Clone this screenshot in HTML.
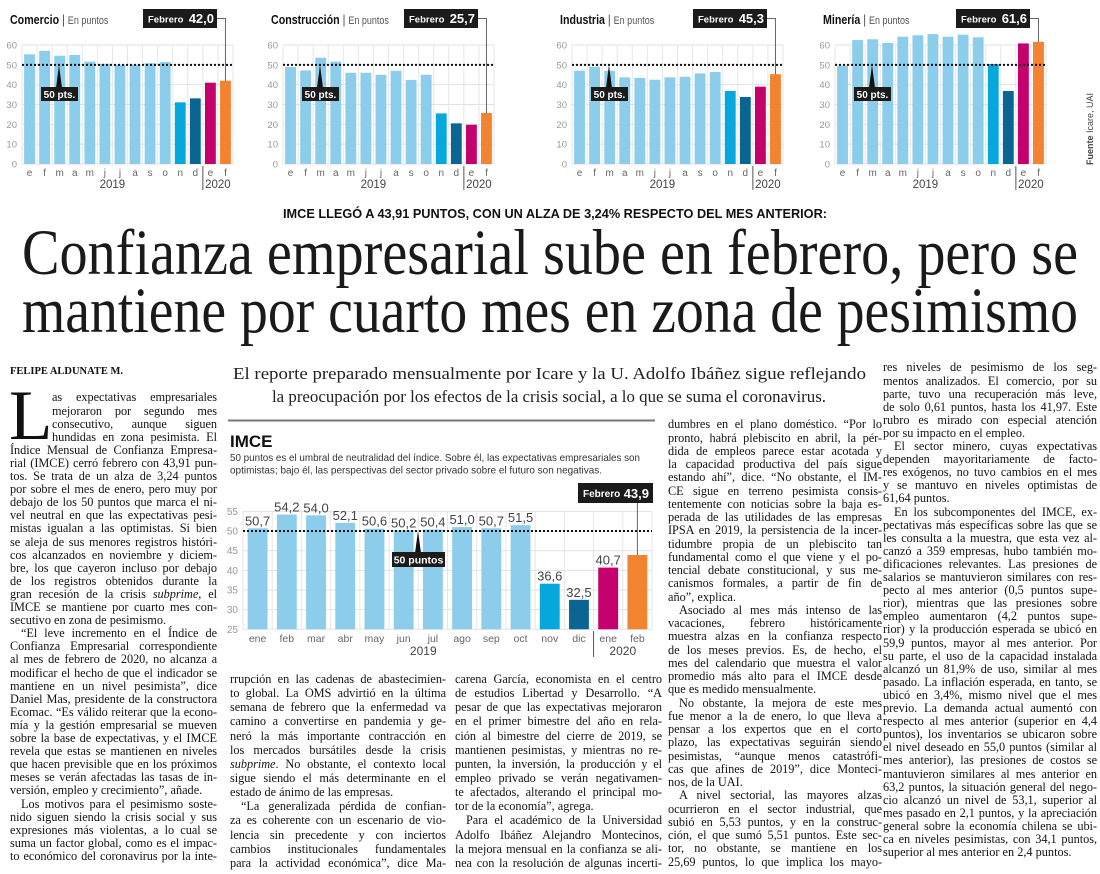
<!DOCTYPE html>
<html lang="es">
<head>
<meta charset="utf-8">
<style>
html,body{margin:0;padding:0;background:#fff;}
body{width:1100px;height:874px;position:relative;overflow:hidden;font-family:"Liberation Serif",serif;color:#222;}
.abs{position:absolute;white-space:nowrap;}
.fit{display:inline-block;transform-origin:0 0;}
.ln{position:absolute;font-size:12.3px;text-align:justify;text-align-last:justify;overflow:visible;color:#141414;}
svg{position:absolute;left:0;top:0;}
svg text{font-family:"Liberation Sans",sans-serif;}
</style>
</head>
<body>

<svg id="top-charts" width="1100" height="200"></svg>

<div class="abs" style="left:283px;top:205px;font-family:'Liberation Sans',sans-serif;font-weight:bold;font-size:13px;line-height:18px;color:#111;"><span class="fit" data-w="544">IMCE LLEGÓ A 43,91 PUNTOS, CON UN ALZA DE 3,24% RESPECTO DEL MES ANTERIOR:</span></div>

<div class="abs" style="left:22px;top:221px;font-size:65px;line-height:65px;color:#1a1a1a;"><span class="fit" data-w="1056">Confianza empresarial sube en febrero, pero se</span></div>
<div class="abs" style="left:22px;top:279px;font-size:65px;line-height:65px;color:#1a1a1a;"><span class="fit" data-w="1056">mantiene por cuarto mes en zona de pesimismo</span></div>

<div class="abs" style="left:10px;top:365px;font-size:10.5px;font-weight:bold;line-height:14px;color:#111;"><span class="fit" data-w="113">FELIPE ALDUNATE M.</span></div>

<div class="abs" style="left:233px;top:363px;font-size:17px;line-height:22px;color:#222;"><span class="fit" data-w="633">El reporte preparado mensualmente por Icare y la U. Adolfo Ibáñez sigue reflejando</span></div>
<div class="abs" style="left:272px;top:386px;font-size:17px;line-height:22px;color:#222;"><span class="fit" data-w="554">la preocupación por los efectos de la crisis social, a lo que se suma el coronavirus.</span></div>

<div class="abs" style="left:9px;top:381px;font-size:71px;line-height:71px;color:#111;">L</div>

<div id="cols"></div>

<svg id="main-chart" width="1100" height="874" style="pointer-events:none"></svg>

<script>
// ---------- data ----------
const smallMonths = ['e','f','m','a','m','j','j','a','s','o','n','d','e','f'];
const smallTicks = [0,10,20,30,40,50,60];
const comercioValues = [55.3,57.1,54.6,55.0,51.6,50.5,50.0,50.0,50.8,51.4,31.1,33.1,41.0,42.0];
const construccionValues = [48.9,47.2,53.6,51.6,46.0,46.0,45.0,47.0,42.4,45.0,25.5,20.5,19.8,25.7];
const industriaValues = [47.0,49.0,47.0,43.7,43.4,42.5,43.7,44.0,45.7,46.4,36.8,33.8,39.0,45.3];
const mineriaValues = [49.5,62.5,62.9,61.0,64.2,64.9,65.5,64.2,65.2,63.9,50.4,36.8,60.8,61.6];
const sectorNames = ['Comercio','Construcción','Industria','Minería'];
const imceMonths = ['ene','feb','mar','abr','may','jun','jul','ago','sep','oct','nov','dic','ene','feb'];
const imceValues = [50.7,54.2,54.0,52.1,50.6,50.2,50.4,51.0,50.7,51.5,36.6,32.5,40.7,43.9];
const imceTicks = [25,30,35,40,45,50,55];
const yearLabels = ['2019','2020'];

const NS = 'http://www.w3.org/2000/svg';
function el(parent, tag, attrs, txt){
  const e = document.createElementNS(NS, tag);
  for (const k in attrs) e.setAttribute(k, attrs[k]);
  if (txt !== undefined) e.textContent = txt;
  parent.appendChild(e);
  return e;
}
function fmt(v){ return v.toFixed(1).replace('.', ','); }
function barColor(i){
  if (i < 10) return '#8ccdeb';
  if (i === 10) return '#05a7dd';
  if (i === 11) return '#0b6593';
  if (i === 12) return '#c4006d';
  return '#f18331';
}

// ---------- small charts ----------
const topSvg = document.getElementById('top-charts');
function smallChart(L, vals, name){
  const W = 211, colW = W/14, top = 45, base = 164;
  const y = v => base - v*(base-top)/60;
  const x = i => L + i*colW;
  const g = el(topSvg, 'g', {});
  
  
  smallTicks.forEach(t => {
    const gl = el(g, 'line', {x1:L, x2:L+W, y1:y(t), y2:y(t), stroke:'#e2e2e2', 'stroke-width':1});
    
    
    const tl = el(g, 'text', {x:L-5, y:y(t)+3.5, 'text-anchor':'end', 'font-size':9.5, fill:'#999'}, t);
    
    
  });
  for (let i=0;i<=14;i++){
    const vl = el(g, 'line', {x1:x(i), x2:x(i), y1:top, y2:base, stroke:'#e6e6e6', 'stroke-width':1});
    
    
  }
  vals.forEach((v,i) => {
    const b = el(g, 'rect', {x:x(i)+colW*0.14, y:y(v), width:colW*0.72, height:base-y(v), fill:barColor(i)});
    
    
    const m = el(g, 'text', {x:x(i)+colW/2, y:176, 'text-anchor':'middle', 'font-size':10, fill:'#666'}, smallMonths[i]);
    
    
  });
  const dl = el(g, 'line', {x1:L, x2:L+W, y1:y(50), y2:y(50), stroke:'#111', 'stroke-width':2, 'stroke-dasharray':'2,2'});
  
  
  const sep = el(g, 'line', {x1:x(12), x2:x(12), y1:166, y2:190, stroke:'#555', 'stroke-width':1});
  
  
  const y1 = el(g, 'text', {x:x(6), y:188, 'text-anchor':'middle', 'font-size':11.5, fill:'#444'}, yearLabels[0]);
  
  
  const y2 = el(g, 'text', {x:x(13), y:188, 'text-anchor':'middle', 'font-size':11.5, fill:'#444'}, yearLabels[1]);
  
  
  // title (condensed)
  const tx = L-12;
  const t = el(g, 'text', {x:tx, y:24, 'font-size':13, fill:'#111', transform:'translate('+tx+',0) scale(0.82,1) translate('+(-tx)+',0)'});
  
  
  el(t, 'tspan', {'font-weight':'bold'}, name);
  el(t, 'tspan', {fill:'#444', 'font-size':13}, ' | ');
  el(t, 'tspan', {fill:'#555', 'font-size':11}, 'En puntos');
  // febrero box
  const last = vals[vals.length-1];
  const cx = x(13)+colW/2;
  const con = el(g, 'polyline', {points:(L+195)+','+18.5+' '+cx+','+18.5+' '+cx+','+y(last), fill:'none', stroke:'#666', 'stroke-width':1});
  
  
  const box = el(g, 'rect', {x:L+121, y:9, width:74, height:19, fill:'#1b1b1b'});
  
  
  const bt = el(g, 'text', {x:L+126, y:22.5, 'font-size':9.5, 'font-weight':'bold', fill:'#fff'}, 'Febrero');
  
  
  const bv = el(g, 'text', {x:L+192, y:23, 'text-anchor':'end', 'font-size':13, 'font-weight':'bold', fill:'#fff'}, fmt(last));
  
  
  // 50 pts
  const tri = el(g, 'polygon', {points:(L+34)+',88 '+(L+40)+',88 '+(L+37)+','+y(50), fill:'#111'});
  
  
  const pb = el(g, 'rect', {x:L+19, y:87, width:37, height:14, fill:'#1b1b1b'});
  
  
  const pt = el(g, 'text', {x:L+37.5, y:98, 'text-anchor':'middle', 'font-size':10, 'font-weight':'bold', fill:'#fff'}, '50 pts.');
  
  
}
smallChart(22, comercioValues, sectorNames[0]);
smallChart(283, construccionValues, sectorNames[1]);
smallChart(572, industriaValues, sectorNames[2]);
smallChart(835, mineriaValues, sectorNames[3]);
const src = el(topSvg, 'text', {x:1093, y:165, transform:'rotate(-90 1093 165)', 'font-size':9, fill:'#444'});


el(src, 'tspan', {'font-weight':'bold'}, 'Fuente ');
el(src, 'tspan', {}, 'Icare, UAI');

// ---------- main IMCE chart ----------
const mSvg = document.getElementById('main-chart');
(function(){
  const L = 243, W = 409, colW = W/14, base = 629.3, k = 3.93;
  const y = v => base - (v-25)*k;
  const x = i => L + i*colW;
  const rule = el(mSvg, 'line', {x1:228, x2:655, y1:420.5, y2:420.5, stroke:'#777', 'stroke-width':2});
  
  
  const ti = el(mSvg, 'text', {x:230, y:447, 'font-size':17, 'font-weight':'bold', fill:'#111'}, 'IMCE');
  
  
  const s1 = el(mSvg, 'text', {x:230, y:461, 'font-size':10.5, fill:'#333', textLength:410, lengthAdjust:'spacingAndGlyphs'}, '50 puntos es el umbral de neutralidad del índice. Sobre él, las expectativas empresariales son');
  
  
  const s2 = el(mSvg, 'text', {x:230, y:473.5, 'font-size':10.5, fill:'#333', textLength:372, lengthAdjust:'spacingAndGlyphs'}, 'optimistas; bajo él, las perspectivas del sector privado sobre el futuro son negativas.');
  
  
  imceTicks.forEach(t => {
    const gl = el(mSvg, 'line', {x1:L, x2:L+W, y1:y(t), y2:y(t), stroke:'#e2e2e2', 'stroke-width':1});
    
    
    const tl = el(mSvg, 'text', {x:L-5, y:y(t)+3.5, 'text-anchor':'end', 'font-size':10, fill:'#999'}, t);
    
    
  });
  for (let i=0;i<=14;i++){
    const vl = el(mSvg, 'line', {x1:x(i), x2:x(i), y1:y(55), y2:base, stroke:'#e6e6e6', 'stroke-width':1});
    
    
  }
  imceValues.forEach((v,i) => {
    const b = el(mSvg, 'rect', {x:x(i)+colW*0.16, y:y(v), width:colW*0.68, height:base-y(v), fill:barColor(i)});
    
    
    if (i < imceValues.length-1){
      const vt = el(mSvg, 'text', {x:x(i)+colW/2, y:y(v)-3, 'text-anchor':'middle', 'font-size':13, fill:'#444'}, fmt(v));
      
      
    }
    const m = el(mSvg, 'text', {x:x(i)+colW/2, y:642, 'text-anchor':'middle', 'font-size':10.5, fill:'#666'}, imceMonths[i]);
    
    
  });
  const dl = el(mSvg, 'line', {x1:L, x2:L+W, y1:y(50), y2:y(50), stroke:'#111', 'stroke-width':2, 'stroke-dasharray':'2,2'});
  
  
  const sep = el(mSvg, 'line', {x1:x(12), x2:x(12), y1:631, y2:657, stroke:'#555', 'stroke-width':1});
  
  
  const y1 = el(mSvg, 'text', {x:x(6)+5, y:655, 'text-anchor':'middle', 'font-size':12, fill:'#444'}, yearLabels[0]);
  
  
  const y2 = el(mSvg, 'text', {x:x(13), y:655, 'text-anchor':'middle', 'font-size':12, fill:'#444'}, yearLabels[1]);
  
  
  const last = imceValues[imceValues.length-1];
  const cx = x(13)+colW/2;
  const con = el(mSvg, 'line', {x1:cx, x2:cx, y1:503, y2:y(last), stroke:'#666', 'stroke-width':1});
  
  
  const box = el(mSvg, 'rect', {x:578, y:483, width:75, height:20, fill:'#1b1b1b'});
  
  
  const bt = el(mSvg, 'text', {x:583, y:497, 'font-size':10, 'font-weight':'bold', fill:'#fff'}, 'Febrero');
  
  
  const bv = el(mSvg, 'text', {x:649, y:498, 'text-anchor':'end', 'font-size':13, 'font-weight':'bold', fill:'#fff'}, fmt(last));
  
  
  const tri = el(mSvg, 'polygon', {points:'415,553 421,553 418,'+y(50), fill:'#111'});
  
  
  const pb = el(mSvg, 'rect', {x:392, y:552, width:53, height:15, fill:'#1b1b1b'});
  
  
  const pt = el(mSvg, 'text', {x:418.5, y:563.5, 'text-anchor':'middle', 'font-size':10.5, 'font-weight':'bold', fill:'#fff'}, '50 puntos');
  
  
})();

// ---------- article columns ----------
const col1 = [
'#as expectativas empresariales','#mejoraron por segundo mes','#consecutivo, aunque siguen','#hundidas en zona pesimista. El',
'Índice Mensual de Confianza Empresa-','rial (IMCE) cerró febrero con 43,91 pun-','tos. Se trata de un alza de 3,24 puntos',
'por sobre el mes de enero, pero muy por','debajo de los 50 puntos que marca el ni-','vel neutral en que las expectativas pesi-',
'mistas igualan a las optimistas. Si bien','se aleja de sus menores registros históri-','cos alcanzados en noviembre y diciem-',
'bre, los que cayeron incluso por debajo','de los registros obtenidos durante la','gran recesión de la crisis <i>subprime</i>, el',
'IMCE se mantiene por cuarto mes con-','secutivo en zona de pesimismo.|',
'>“El leve incremento en el Índice de','Confianza Empresarial correspondiente','al mes de febrero de 2020, no alcanza a',
'modificar el hecho de que el indicador se','mantiene en un nivel pesimista”, dice','Daniel Mas, presidente de la constructora',
'Ecomac. “Es válido reiterar que la econo-','mía y la gestión empresarial se mueven','sobre la base de expectativas, y el IMCE',
'revela que estas se mantienen en niveles','que hacen previsible que en los próximos','meses se verán afectadas las tasas de in-',
'versión, empleo y crecimiento”, añade.|',
'>Los motivos para el pesimismo soste-','nido siguen siendo la crisis social y sus','expresiones más violentas, a lo cual se',
'suma un factor global, como es el impac-','to económico del coronavirus por la inte-'];
const col2 = [
'rrupción en las cadenas de abastecimien-','to global. La OMS advirtió en la última','semana de febrero que la enfermedad va',
'camino a convertirse en pandemia y ge-','neró la más importante contracción en','los mercados bursátiles desde la crisis',
'<i>subprime</i>. No obstante, el contexto local','sigue siendo el más determinante en el','estado de ánimo de las empresas.|',
'>“La generalizada pérdida de confian-','za es coherente con un escenario de vio-','lencia sin precedente y con inciertos',
'cambios institucionales fundamentales','para la actividad económica”, dice Ma-'];
const col3 = [
'carena García, economista en el centro','de estudios Libertad y Desarrollo. “A','pesar de que las expectativas mejoraron',
'en el primer bimestre del año en rela-','ción al bimestre del cierre de 2019, se','mantienen pesimistas, y mientras no re-',
'punten, la inversión, la producción y el','empleo privado se verán negativamen-','te afectados, alterando el principal mo-',
'tor de la economía”, agrega.|',
'>Para el académico de la Universidad','Adolfo Ibáñez Alejandro Montecinos,','la mejora mensual en la confianza se ali-',
'nea con la resolución de algunas incerti-'];
const col4 = [
'dumbres en el plano doméstico. “Por lo','pronto, habrá plebiscito en abril, la pér-','dida de empleos parece estar acotada y',
'la capacidad productiva del país sigue','estando ahí”, dice. “No obstante, el IM-','CE sigue en terreno pesimista consis-',
'tentemente con noticias sobre la baja es-','perada de las utilidades de las empresas','IPSA en 2019, la persistencia de la incer-',
'tidumbre propia de un plebiscito tan','fundamental como el que viene y el po-','tencial debate constitucional, y sus me-',
'canismos formales, a partir de fin de','año”, explica.|',
'>Asociado al mes más intenso de las','vacaciones, febrero históricamente','muestra alzas en la confianza respecto',
'de los meses previos. Es, de hecho, el','mes del calendario que muestra el valor','promedio más alto para el IMCE desde',
'que es medido mensualmente.|',
'>No obstante, la mejora de este mes','fue menor a la de enero, lo que lleva a','pensar a los expertos que en el corto',
'plazo, las expectativas seguirán siendo','pesimistas, “aunque menos catastrófi-','cas que afines de 2019”, dice Monteci-',
'nos, de la UAI.|',
'>A nivel sectorial, las mayores alzas','ocurrieron en el sector industrial, que','subió en 5,53 puntos, y en la construc-',
'ción, el que sumó 5,51 puntos. Este sec-','tor, no obstante, se mantiene en los','25,69 puntos, lo que implica los mayo-'];
const col5 = [
'res niveles de pesimismo de los seg-','mentos analizados. El comercio, por su','parte, tuvo una recuperación más leve,',
'de solo 0,61 puntos, hasta los 41,97. Este','rubro es mirado con especial atención','por su impacto en el empleo.|',
'>El sector minero, cuyas expectativas','dependen mayoritariamente de facto-','res exógenos, no tuvo cambios en el mes',
'y se mantuvo en niveles optimistas de','61,64 puntos.|',
'>En los subcomponentes del IMCE, ex-','pectativas más específicas sobre las que se','les consulta a la muestra, que esta vez al-',
'canzó a 359 empresas, hubo también mo-','dificaciones relevantes. Las presiones de','salarios se mantuvieron similares con res-',
'pecto al mes anterior (0,5 puntos supe-','rior), mientras que las presiones sobre','empleo aumentaron (4,2 puntos supe-',
'rior) y la producción esperada se ubicó en','59,9 puntos, mayor al mes anterior. Por','su parte, el uso de la capacidad instalada',
'alcanzó un 81,9% de uso, similar al mes','pasado. La inflación esperada, en tanto, se','ubicó en 3,4%, mismo nivel que el mes',
'previo. La demanda actual aumentó con','respecto al mes anterior (superior en 4,4','puntos), los inventarios se ubicaron sobre',
'el nivel deseado en 55,0 puntos (similar al','mes anterior), las presiones de costos se','mantuvieron similares al mes anterior en',
'63,2 puntos, la situación general del nego-','cio alcanzó un nivel de 53,1, superior al','mes pasado en 2,1 puntos, y la apreciación',
'general sobre la economía chilena se ubi-','ca en niveles pesimistas, con 34,1 puntos,','superior al mes anterior en 2,4 puntos.|'];

const colsEl = document.getElementById('cols');
function layCol(lines, x, w, firstCenter, lh, name){
  lines.forEach((s0, i) => {
    let s = s0, indent = 0, last = false;
    if (s[0] === '#'){ indent = 42; s = s.slice(1); }
    else if (s[0] === '>'){ indent = 11; s = s.slice(1); }
    if (s.endsWith('|')){ last = true; s = s.slice(0,-1); }
    const d = document.createElement('div');
    
    
    d.className = 'ln';
    const aw = w - indent;
    d.style.left = (x + indent) + 'px';
    d.style.width = aw + 'px';
    d.style.top = (firstCenter + i*lh - lh/2) + 'px';
    d.style.height = lh + 'px';
    d.style.lineHeight = lh + 'px';
    if (last) d.style.textAlignLast = 'left';
    d.innerHTML = '<span style="white-space:nowrap">' + s + '</span>';
    colsEl.appendChild(d);
    const sp = d.firstChild;
    const nat = sp.getBoundingClientRect().width;
    if (nat > aw - 1){
      const n = sp.textContent.length;
      d.style.letterSpacing = ((aw - 1.5 - nat) / n) + 'px';
    }
    d.innerHTML = s;
  });
}
layCol(col1, 10, 207, 398, 13.1, 'column-1');
layCol(col2, 230, 216, 679, 14.15, 'column-2');
layCol(col3, 455, 207, 679, 14.15, 'column-3');
layCol(col4, 668, 214, 425, 13.25, 'column-4');
layCol(col5, 883, 214, 368, 13.1, 'column-5');

// ---------- fit headline-type spans ----------
document.querySelectorAll('.fit').forEach(s => {
  const w = parseFloat(s.getAttribute('data-w'));
  const nat = s.getBoundingClientRect().width;
  if (nat > 0) s.style.transform = 'scaleX(' + (w/nat) + ')';
});
</script>
</body>
</html>
